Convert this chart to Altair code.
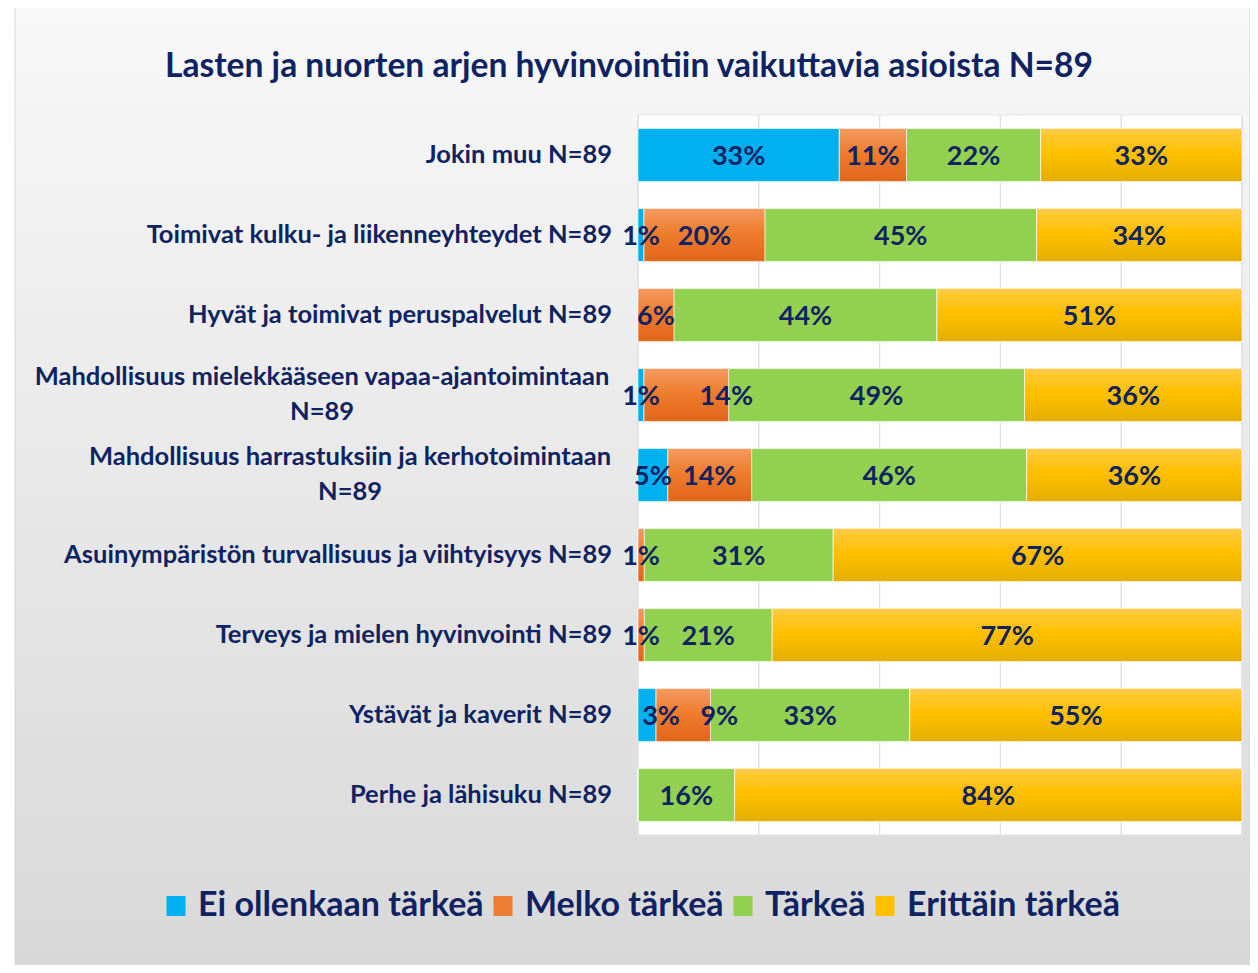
import altair as alt
import pandas as pd

FONT = "Lato, Roboto, sans-serif"
NAVY = "#0f2362"

title = "Lasten ja nuorten arjen hyvinvointiin vaikuttavia asioista N=89"

items = [
    "Jokin muu N=89",
    "Toimivat kulku- ja liikenneyhteydet N=89",
    "Hyvät ja toimivat peruspalvelut N=89",
    "Mahdollisuus mielekkääseen vapaa-ajantoimintaan N=89",
    "Mahdollisuus harrastuksiin ja kerhotoimintaan N=89",
    "Asuinympäristön turvallisuus ja viihtyisyys N=89",
    "Terveys ja mielen hyvinvointi N=89",
    "Ystävät ja kaverit N=89",
    "Perhe ja lähisuku N=89",
]

categories = ["Ei ollenkaan tärkeä", "Melko tärkeä", "Tärkeä", "Erittäin tärkeä"]
colors = ["#00b0f0", "#ed7d31", "#92d050", "#ffc000"]

ei_ollenkaan = [33, 1, 0, 1, 5, 0, 0, 3, 0]
melko = [11, 20, 6, 14, 14, 1, 1, 9, 0]
tarkea = [22, 45, 44, 49, 46, 31, 21, 33, 16]
erittain = [33, 34, 51, 36, 36, 67, 77, 55, 84]

grid_ticks = [0, 0.2, 0.4, 0.6, 0.8, 1.0]

series = [ei_ollenkaan, melko, tarkea, erittain]
rows = []
for ci, (cat, vals) in enumerate(zip(categories, series)):
    for item, v in zip(items, vals):
        rows.append({"item": item, "cat": cat, "order": ci, "value": v})
df = pd.DataFrame(rows)

W, H = 604, 720

yenc = alt.Y("item:N", sort=items, axis=None,
             scale=alt.Scale(domain=items, paddingInner=0.34, paddingOuter=0.17))
xscale = alt.Scale(domain=[0, 1], nice=False, zero=True)

def stacked(ch):
    return ch.transform_stack(
        stack="value", groupby=["item"], as_=["x0", "x1"],
        offset="normalize", sort=[alt.SortField("order", order="ascending")]
    )

# background panel
bg = alt.Chart(pd.DataFrame({"k": [0]})).mark_rect(
    fill=alt.Gradient(gradient="linear",
                      stops=[alt.GradientStop(color="#f8f8f8", offset=0),
                             alt.GradientStop(color="#d8d8d8", offset=1)],
                      x1=0, x2=0, y1=0, y2=1),
    stroke="#d6d6d6", strokeWidth=1,
).encode(x=alt.value(-623), x2=alt.value(612), y=alt.value(-110), y2=alt.value(860))

plotbg = alt.Chart(pd.DataFrame({"k": [0]})).mark_rect(
    fill="white", stroke="#e4e4e4", strokeWidth=1
).encode(x=alt.value(0), x2=alt.value(W), y=alt.value(0), y2=alt.value(H))

grid = alt.Chart(pd.DataFrame({"t": grid_ticks})).mark_rule(
    color="#dde3ea", strokeWidth=1.5
).encode(x=alt.X("t:Q", scale=xscale, axis=None), y=alt.value(0), y2=alt.value(H))

bars = stacked(alt.Chart(df)).mark_bar(stroke="white", strokeWidth=0.6).encode(
    x=alt.X("x0:Q", scale=xscale, axis=None),
    x2="x1:Q",
    y=yenc,
    color=alt.Color("cat:N", scale=alt.Scale(domain=categories, range=colors),
                    sort=categories,
                    legend=alt.Legend(title=None, orient="none", legendX=-479, legendY=774,
                                      direction="horizontal",
                                      symbolType="M-0.95,-1H0.95V1H-0.95Z",
                                      symbolSize=400, symbolStrokeWidth=0, symbolOpacity=1,
                                      labelFont=FONT, labelFontSize=34, labelFontWeight="bold",
                                      labelColor=NAVY, labelOffset=5, columnPadding=2,
                                      labelLimit=0)),
)

def grad_layer(cat, top, mid, bot):
    return stacked(alt.Chart(df)).transform_filter(
        alt.datum.cat == cat
    ).mark_bar(
        fill=alt.Gradient(gradient="linear",
                          stops=[alt.GradientStop(color=top, offset=0),
                                 alt.GradientStop(color=mid, offset=0.45),
                                 alt.GradientStop(color=bot, offset=1)],
                          x1=0, x2=0, y1=0, y2=1),
        stroke="white", strokeWidth=0.6,
    ).encode(x=alt.X("x0:Q", scale=xscale, axis=None), x2="x1:Q", y=yenc)

orange_g = grad_layer("Melko tärkeä", "#f39a60", "#ef7d2e", "#e0651a")
yellow_g = grad_layer("Erittäin tärkeä", "#ffcb45", "#ffc000", "#e3ae00")

# labels that were nudged sideways in the original to avoid overlapping
nudged = [
    ("Mahdollisuus mielekkääseen vapaa-ajantoimintaan N=89", "Melko tärkeä", 40),
    ("Ystävät ja kaverit N=89", "Ei ollenkaan tärkeä", 14),
    ("Ystävät ja kaverit N=89", "Melko tärkeä", 36),
]

def label_layer(flt, dx=0):
    return stacked(alt.Chart(df)).transform_filter(
        alt.datum.value > 0
    ).transform_filter(flt).transform_calculate(
        mid="(datum.x0 + datum.x1) / 2", txt="datum.value + '%'"
    ).mark_text(font=FONT, fontSize=27, fontWeight="bold", color=NAVY,
                align="center", baseline="middle", dy=2, dx=dx).encode(
        x=alt.X("mid:Q", scale=xscale, axis=None),
        y=yenc,
        text="txt:N",
    )

not_nudged = " && ".join(
    f"!(datum.item === '{it}' && datum.cat === '{c}')" for it, c, _ in nudged)
label_layers = [label_layer(not_nudged)]
for it, c, dx in nudged:
    label_layers.append(label_layer(f"datum.item === '{it}' && datum.cat === '{c}'", dx))

two_line = {
    "Mahdollisuus mielekkääseen vapaa-ajantoimintaan N=89": -316,
    "Mahdollisuus harrastuksiin ja kerhotoimintaan N=89": -288,
}
items_df = pd.DataFrame({"item": items})

ylab_single = alt.Chart(items_df).transform_filter(
    alt.FieldOneOfPredicate(field="item", oneOf=[i for i in items if i not in two_line])
).mark_text(font=FONT, fontSize=25.5, fontWeight="bold", color=NAVY,
            align="right", baseline="middle").encode(
    x=alt.value(-26), y=yenc, text="item:N")

ylab_multi = []
for name, cx in two_line.items():
    ylab_multi.append(
        alt.Chart(items_df).transform_filter(alt.datum.item == name).transform_calculate(
            lbl="replace(datum.item, ' N=89', '\\nN=89')"
        ).mark_text(font=FONT, fontSize=25.5, fontWeight="bold", color=NAVY,
                    align="center", baseline="middle", lineBreak="\n", lineHeight=35,
                    dy=-18).encode(
            x=alt.value(cx), y=yenc, text="lbl:N")
    )

chart = alt.layer(bg, plotbg, grid, bars, orange_g, yellow_g, *label_layers,
                  ylab_single, *ylab_multi).properties(
    width=W, height=H,
    title=alt.TitleParams(title, font=FONT, fontSize=33.6, fontWeight="bold", color=NAVY,
                          anchor="middle", frame="group", dx=-311, offset=-96,
                          baseline="middle"),
    padding={"left": 630, "top": 107, "right": 8, "bottom": 130},
    autosize=alt.AutoSizeParams(type="none"),
).configure_view(stroke=None)

chart.save("out.html", embed_options={"renderer": "svg", "actions": False})
